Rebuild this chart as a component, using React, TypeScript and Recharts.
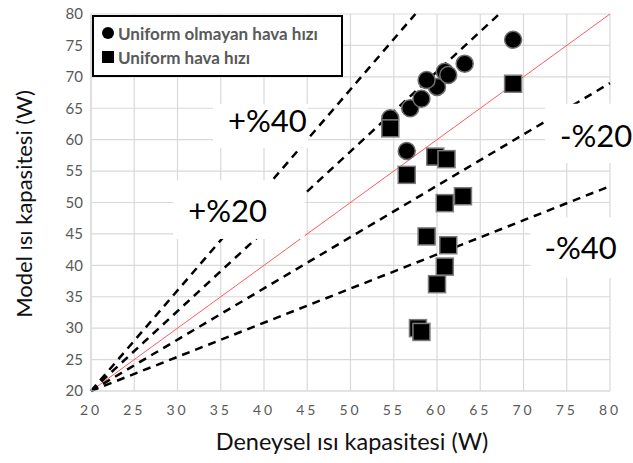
import {
  CartesianGrid,
  Legend,
  ReferenceArea,
  ReferenceDot,
  ReferenceLine,
  Scatter,
  ScatterChart,
  XAxis,
  YAxis,
} from "recharts";

const FONT = "Lato, 'Noto Sans', sans-serif";
const TICKS = [20, 25, 30, 35, 40, 45, 50, 55, 60, 65, 70, 75, 80];

// Uniform olmayan hava hızı (circles)
const nonUniformX = [54.6, 56.9, 58.2, 60.0, 58.8, 60.9, 63.2, 68.8, 56.5, 61.3];
const nonUniformY = [63.4, 65.0, 66.5, 68.4, 69.5, 70.8, 72.1, 75.9, 58.2, 70.3];

// Uniform hava hızı (squares)
const uniformX = [54.6, 68.8, 56.5, 59.8, 61.1, 60.9, 63.0, 58.8, 61.3, 60.9, 60.0, 57.8, 58.2];
const uniformY = [61.8, 68.9, 54.4, 57.3, 56.9, 49.9, 51.0, 44.6, 43.2, 39.8, 37.0, 30.0, 29.4];

// error band guide lines, all starting at (20, 20)
const guideNames = ["+%40", "+%20", "-%20", "-%40"];
const guideEndX = [57.5, 67.2, 80, 80];
const guideEndY = [80, 80, 69, 52.6];

// label annotations (data units): text centre and white backing box
const labelX = [40.4, 35.8, 78.4, 76.6];
const labelY = [63.0, 48.7, 60.6, 42.7];
const boxX1 = [34.1, 29.5, 72.5, 70.8];
const boxX2 = [45.1, 44.7, 84.3, 82.5];
const boxY1 = [58.7, 44.2, 56.3, 38.0];
const boxY2 = [65.7, 53.5, 65.7, 47.6];

const circleData = nonUniformX.map((x, i) => ({ x, y: nonUniformY[i] }));
const squareData = uniformX.map((x, i) => ({ x, y: uniformY[i] }));

function CircleShape(props: any) {
  return <circle cx={props.cx} cy={props.cy} r={8.5} fill="#000" stroke="#6e6e6e" strokeWidth={1.5} />;
}

function SquareShape(props: any) {
  return (
    <rect x={props.cx - 8.5} y={props.cy - 8.5} width={17} height={17} fill="#000" stroke="#7a7a7a" strokeWidth={1.5} />
  );
}

function LegendBox() {
  const row = { display: "flex", alignItems: "center", height: 24 } as const;
  return (
    <div
      style={{
        boxSizing: "border-box",
        width: 251,
        height: 62,
        border: "2px solid #000",
        background: "#fff",
        padding: "4px 0 0 8px",
        fontFamily: FONT,
        fontWeight: 700,
        fontSize: 17,
        color: "#595959",
        whiteSpace: "nowrap",
      }}
    >
      <div style={row}>
        <span style={{ flex: "none", width: 12, height: 12, borderRadius: 6, background: "#000", marginRight: 4 }} />
        Uniform olmayan hava hızı
      </div>
      <div style={row}>
        <span style={{ flex: "none", width: 12, height: 12, background: "#000", marginRight: 4 }} />
        Uniform hava hızı
      </div>
    </div>
  );
}

export default function App() {
  return (
    <div style={{ position: "absolute", left: 0, top: 0, width: 633, height: 463, background: "#fff" }}>
      <ScatterChart width={633} height={463} margin={{ top: 14, right: 23, bottom: 0, left: 0 }}>
        <CartesianGrid stroke="#d9d9d9" strokeWidth={1.2} />
        <XAxis
          type="number"
          dataKey="x"
          domain={[20, 80]}
          ticks={TICKS}
          interval={0}
          height={72}
          tickLine={false}
          axisLine={{ stroke: "#d9d9d9", strokeWidth: 1.2 }}
          tickMargin={8}
          tick={{ fill: "#595959", fontSize: 14, fontFamily: FONT, letterSpacing: 3 }}
          label={{
            content: () => (
              <text x={352} y={441} textAnchor="middle" dominantBaseline="central" fontFamily={FONT} fontSize={23.5} fill="#111">
                Deneysel ısı kapasitesi (W)
              </text>
            ),
          }}
        />
        <YAxis
          type="number"
          dataKey="y"
          domain={[20, 80]}
          ticks={TICKS}
          interval={0}
          width={91}
          tickLine={false}
          axisLine={{ stroke: "#d9d9d9", strokeWidth: 1.2 }}
          tick={{ fill: "#595959", fontSize: 15, fontFamily: FONT }}
          label={{
            content: () => (
              <text
                x={23}
                y={204}
                transform="rotate(-90 23 204)"
                textAnchor="middle"
                dominantBaseline="central"
                fontFamily={FONT}
                fontSize={22}
                fill="#111"
              >
                Model ısı kapasitesi (W)
              </text>
            ),
          }}
        />
        <ReferenceLine
          segment={[
            { x: 20, y: 20 },
            { x: 80, y: 80 },
          ]}
          stroke="#ff5b5b"
          strokeWidth={1}
          ifOverflow="visible"
          zIndex={100}
        />
        {guideNames.map((name, i) => (
          <ReferenceLine
            key={name}
            segment={[
              { x: 20, y: 20 },
              { x: guideEndX[i], y: guideEndY[i] },
            ]}
            stroke="#000"
            strokeWidth={2.5}
            strokeDasharray="8 6"
            ifOverflow="visible"
            zIndex={110}
          />
        ))}
        {guideNames.map((name, i) => (
          <ReferenceArea
            key={`box-${name}`}
            x1={boxX1[i]}
            x2={boxX2[i]}
            y1={boxY1[i]}
            y2={boxY2[i]}
            fill="#fff"
            fillOpacity={1}
            stroke="none"
            ifOverflow="visible"
            zIndex={200}
          />
        ))}
        {guideNames.map((name, i) => (
          <ReferenceDot
            key={`lbl-${name}`}
            x={labelX[i]}
            y={labelY[i]}
            r={0}
            fill="none"
            stroke="none"
            ifOverflow="visible"
            zIndex={250}
            label={{ value: name, position: "center", fontSize: 31, fontFamily: FONT, fill: "#000" }}
          />
        ))}
        <Scatter name="Uniform olmayan hava hızı" data={circleData} shape={CircleShape} isAnimationActive={false} />
        <Scatter name="Uniform hava hızı" data={squareData} shape={SquareShape} isAnimationActive={false} />
        <Legend
          layout="vertical"
          align="center"
          verticalAlign="middle"
          content={() => <LegendBox />}
          wrapperStyle={{ left: 92, top: 15, width: 251, height: 62 }}
        />
      </ScatterChart>
    </div>
  );
}
